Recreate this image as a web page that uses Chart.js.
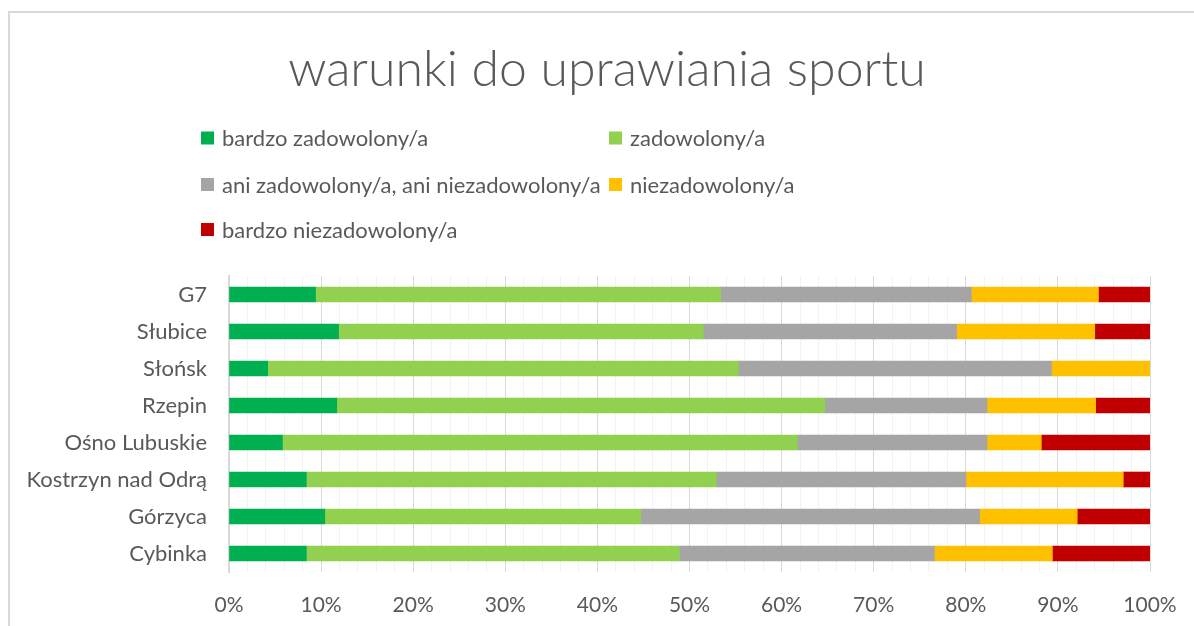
<!DOCTYPE html>
<html>
<head>
<meta charset="utf-8">
<script src="https://cdn.jsdelivr.net/npm/chart.js@4.4.0/dist/chart.umd.min.js"></script>
<style>
  html, body { margin: 0; padding: 0; background: #fff; }
  #wrap { position: relative; width: 1194px; height: 626px; }
  #frame { position: absolute; left: 8px; top: 11px; right: 0; bottom: 0;
           border-left: 2px solid #d9d9d9; border-top: 2px solid #d9d9d9; }
  canvas { position: absolute; left: 0; top: 0; }
</style>
</head>
<body>
<div id="wrap">
  <div id="frame"></div>
  <canvas id="chart" width="1194" height="626"></canvas>
</div>
<script>
const chartTitle = 'warunki do uprawiania sportu';
const places = ['G7', 'Słubice', 'Słońsk', 'Rzepin', 'Ośno Lubuskie', 'Kostrzyn nad Odrą', 'Górzyca', 'Cybinka'];

// shares in %
const bardzoZadowolony = [9.4, 11.9, 4.2, 11.7, 5.8, 8.4, 10.4, 8.4];
const zadowolony = [44.0, 39.6, 51.1, 53.0, 55.9, 44.5, 34.3, 40.5];
const ani = [27.2, 27.5, 34.0, 17.6, 20.6, 27.1, 36.8, 27.7];
const niezadowolony = [13.8, 15.0, 10.7, 11.8, 5.9, 17.1, 10.6, 12.8];
const bardzoNiezadowolony = [5.6, 6.0, 0, 5.9, 11.8, 2.9, 7.9, 10.6];

const FONT = 'Lato, Calibri, Carlito, sans-serif';
const TXT = '#595959';

// title + legend drawn by hand: excel centres the title on the whole frame
// and puts the legend in two equal columns
const headerAndLegend = {
  id: 'headerAndLegend',
  afterDraw(chart) {
    const ctx = chart.ctx;
    ctx.save();
    ctx.fillStyle = TXT;
    ctx.font = '300 50px ' + FONT;
    ctx.textAlign = 'center';
    ctx.textBaseline = 'alphabetic';
    ctx.fillText(chartTitle, 607, 86);

    const cols = [201, 609];
    const rows = [138, 184.5, 229.5];
    ctx.font = '22px ' + FONT;
    ctx.textBaseline = 'middle';
    ctx.textAlign = 'left';
    chart.data.datasets.forEach((ds, i) => {
      const x = cols[i % 2];
      const y = rows[Math.floor(i / 2)];
      ctx.fillStyle = ds.backgroundColor;
      ctx.fillRect(x, y - 6.5, 13, 13);
      ctx.fillStyle = TXT;
      ctx.fillText(ds.label, x + 21, y + 1);
    });
    ctx.restore();
  }
};

new Chart(document.getElementById('chart'), {
  type: 'bar',
  data: {
    labels: places,
    datasets: [
      { label: 'bardzo zadowolony/a', data: bardzoZadowolony, backgroundColor: '#00b050' },
      { label: 'zadowolony/a', data: zadowolony, backgroundColor: '#92d050' },
      { label: 'ani zadowolony/a, ani niezadowolony/a', data: ani, backgroundColor: '#a5a5a5' },
      { label: 'niezadowolony/a', data: niezadowolony, backgroundColor: '#ffc000' },
      { label: 'bardzo niezadowolony/a', data: bardzoNiezadowolony, backgroundColor: '#c00000' }
    ]
  },
  options: {
    indexAxis: 'y',
    responsive: false,
    animation: false,
    barThickness: 15,
    layout: { padding: { left: 0, right: 44, top: 276, bottom: 0 } },
    plugins: {
      legend: { display: false },
      tooltip: { enabled: false },
      title: { display: false }
    },
    scales: {
      x: {
        stacked: true,
        min: 0,
        max: 100,
        grid: {
          drawTicks: false,
          color: c => (c.tick && c.tick.value % 10 === 0) ? '#d9d9d9' : '#f2f2f2',
          lineWidth: 1
        },
        border: { display: false },
        ticks: {
          stepSize: 2,
          autoSkip: false,
          maxRotation: 0,
          padding: 21,
          color: TXT,
          font: { family: FONT, size: 21 },
          callback: v => v % 10 === 0 ? v + '%' : ''
        },
        afterFit: s => { s.height = 54; s.paddingLeft = 0; s.paddingRight = 0; }
      },
      y: {
        stacked: true,
        grid: { display: false, drawTicks: false },
        border: { display: true, color: '#d9d9d9', width: 2 },
        ticks: {
          padding: 22,
          color: TXT,
          font: { family: FONT, size: 22 }
        },
        afterFit: s => { s.width = 229; }
      }
    }
  },
  plugins: [headerAndLegend]
});
</script>
</body>
</html>
